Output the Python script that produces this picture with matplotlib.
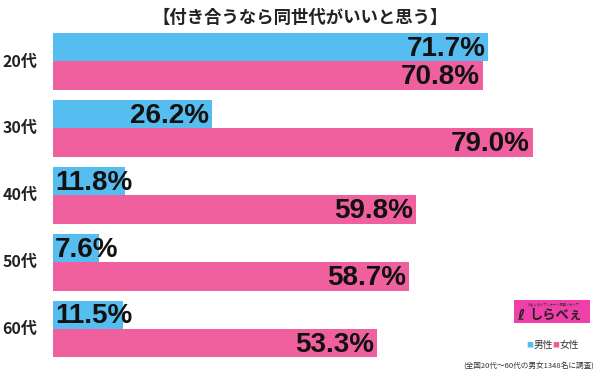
import matplotlib
matplotlib.use("Agg")
import matplotlib.pyplot as plt
from matplotlib.patches import Rectangle

plt.rcParams['font.family'] = ['Noto Sans CJK JP', 'DejaVu Sans']

# --- data ---
title = "【付き合うなら同世代がいいと思う】"
ages = ["20代", "30代", "40代", "50代", "60代"]
male = [71.7, 26.2, 11.8, 7.6, 11.5]
female = [70.8, 79.0, 59.8, 58.7, 53.3]
legend_labels = ["男性", "女性"]
footnote = "(全国20代～60代の男女1348名に調査)"

blue = "#55bdf0"
pink = "#f0609e"

W, H = 600, 376
fig = plt.figure(figsize=(W / 100, H / 100), dpi=100)

def px(x, y):
    return x / W, 1 - y / H

# axes: bars start at x=53px, group 0 centred at y=61.5px, 66.9px per group
left, top, bottom = 53, 28, 362.5
ax = fig.add_axes([left / W, 1 - bottom / H, 1 - left / W, (bottom - top) / H])
ax.set_xlim(0, (W - left) / 6.07)
ax.set_ylim(len(ages) - 0.5, -0.5)
ax.axis("off")

h = 0.425
ypos = list(range(len(ages)))
ax.barh([y - h / 2 for y in ypos], male, height=h, color=blue)
ax.barh([y + h / 2 for y in ypos], female, height=h, color=pink)

def label(v, y):
    txt = f"{v:.1f}%"
    if v > 20:
        ax.annotate(txt, (v, y + h / 2), xytext=(-2, 4), textcoords="offset points",
                    ha="right", va="baseline", fontsize=20, fontweight="bold",
                    family=["Liberation Sans"], color="#111111")
    else:
        ax.annotate(txt, (0, y + h / 2), xytext=(1.5, 4), textcoords="offset points",
                    ha="left", va="baseline", fontsize=20, fontweight="bold",
                    family=["Liberation Sans"], color="#111111")

for y, m, f in zip(ypos, male, female):
    label(m, y - h / 2)
    label(f, y + h / 2)
    fig.text(*px(20, 61.5 + 66.9 * y), ages[y], ha="center", va="center",
             fontsize=11.5, fontweight="bold", color="#222222")

fig.text(*px(300, 18), title, ha="center", va="center", fontsize=12.5,
         fontweight="bold", color="#222222")

# logo box
fig.patches.append(Rectangle(px(514, 323), 76 / W, 23 / H, transform=fig.transFigure,
                             facecolor="#f03fa8", edgecolor="none"))
fig.text(*px(554, 304), "おもしろいアンケート調査メディア", ha="center", va="center",
         fontsize=2.3, color="#333333")
fig.text(*px(521, 315), "ℓ", ha="center", va="center", fontsize=11,
         fontweight="bold", family=["DejaVu Sans"], color="#222222")
fig.text(*px(556, 315), "しらべぇ", ha="center", va="center", fontsize=9.5,
         fontweight="bold", color="#222222")

# legend
fig.text(*px(530, 345), "■", ha="center", va="center", fontsize=5, color=blue)
fig.text(*px(534, 345), legend_labels[0], ha="left", va="center", fontsize=7, color="#333333")
fig.text(*px(556, 345), "■", ha="center", va="center", fontsize=5, color=pink)
fig.text(*px(560, 345), legend_labels[1], ha="left", va="center", fontsize=7, color="#333333")

fig.text(*px(594, 366), footnote, ha="right", va="center", fontsize=5.5, color="#333333")

fig.savefig("out.png", dpi=100, facecolor="white")
